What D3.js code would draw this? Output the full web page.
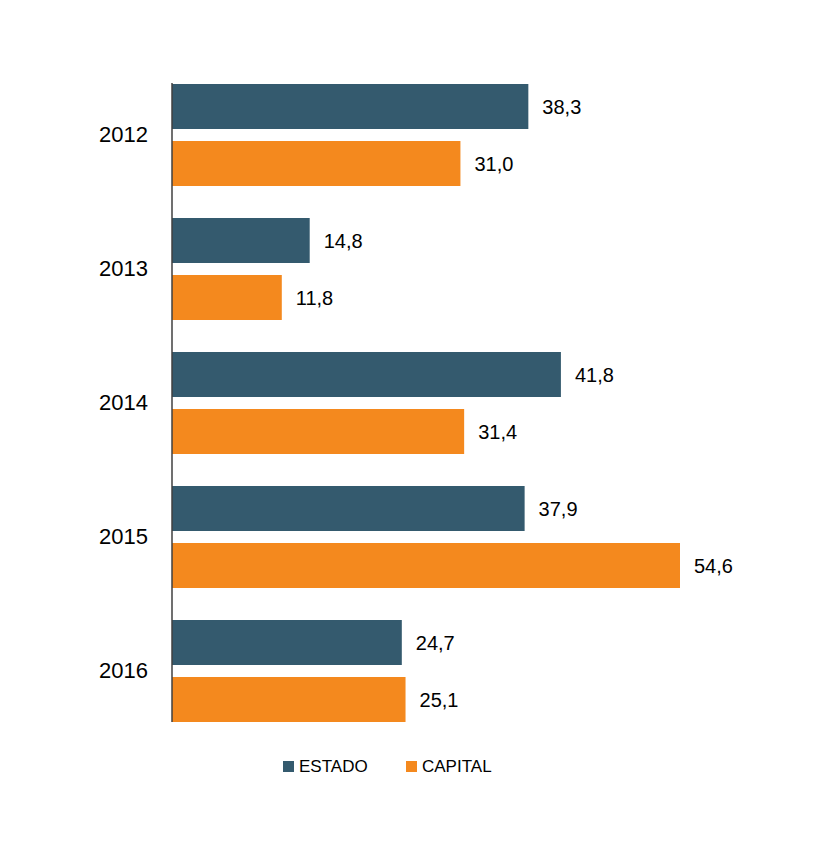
<!DOCTYPE html>
<html><head><meta charset="utf-8">
<script src="https://cdn.jsdelivr.net/npm/d3@7/dist/d3.min.js"></script>
<style>body{margin:0;background:#fff}</style>
</head><body>
<script>
const years = ["2012","2013","2014","2015","2016"];
const seriesNames = ["ESTADO","CAPITAL"];
const estado = [38.3,14.8,41.8,37.9,24.7];
const capital = [31.0,11.8,31.4,54.6,25.1];
const colors = ["#345A6E","#F4891E"];

const W=818,H=856;
const svg=d3.select("body").append("svg").attr("width",W).attr("height",H);
const x=d3.scaleLinear().domain([0,54.6]).range([172,680]);
const y=d3.scaleBand().domain(years).range([84,722]).paddingInner(32/134).paddingOuter(0);
const ySub=d3.scaleBand().domain(seriesNames).range([0,y.bandwidth()]).paddingInner(12/57);
const fmt=v=>v.toFixed(1).replace(".",",");
const data=[estado,capital];

years.forEach((yr,i)=>{
  seriesNames.forEach((s,j)=>{
    const v=data[j][i];
    svg.append("rect").attr("x",x(0)).attr("y",y(yr)+ySub(s))
      .attr("width",x(v)-x(0)).attr("height",ySub.bandwidth()).attr("fill",colors[j]);
    svg.append("text").attr("x",x(v)+14).attr("y",y(yr)+ySub(s)+ySub.bandwidth()/2)
      .attr("dy","0.35em").attr("font-family","Liberation Sans, Arial, sans-serif")
      .attr("font-size",20).attr("fill","#000").text(fmt(v));
  });
});

const axis=svg.append("g").attr("transform",`translate(${x(0)},0)`)
  .call(d3.axisLeft(y).tickSize(0).tickPadding(24));
axis.select(".domain").attr("stroke","#404040").attr("stroke-width",1.5).attr("d","M0,83V722");
axis.selectAll("text").attr("font-family","Liberation Sans, Arial, sans-serif").attr("font-size",22).attr("fill","#000");

const legX=[283,406];
seriesNames.forEach((s,j)=>{
  svg.append("rect").attr("x",legX[j]).attr("y",761).attr("width",11).attr("height",11).attr("fill",colors[j]);
  svg.append("text").attr("x",legX[j]+16).attr("y",766).attr("dy","0.35em")
    .attr("font-family","Liberation Sans, Arial, sans-serif").attr("font-size",17).attr("fill","#000").text(s);
});
</script>
</body></html>
